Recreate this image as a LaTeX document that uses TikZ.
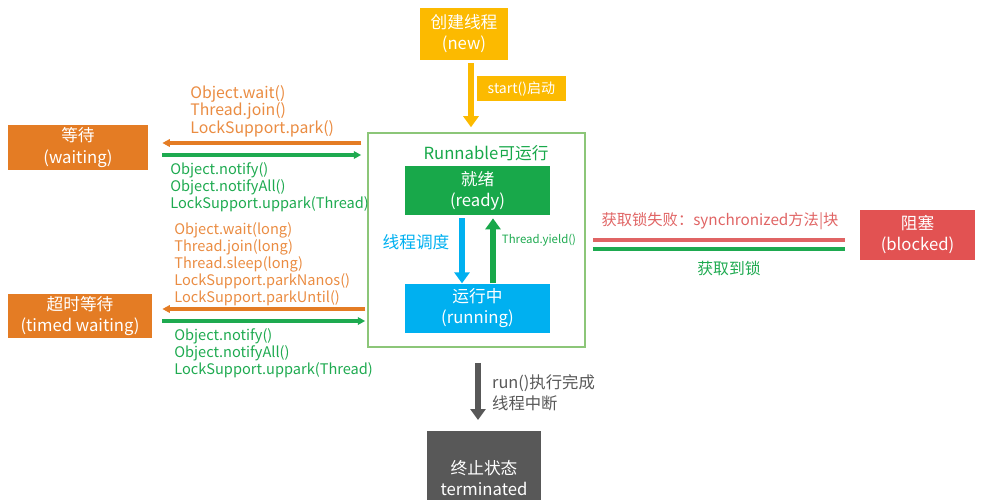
\documentclass[tikz,border=0pt]{standalone}
\usepackage{fontspec}
\setmainfont{Noto Sans CJK SC}
\setsansfont{Noto Sans CJK SC}
\usetikzlibrary{arrows.meta,positioning}
\definecolor{NewYellow}{RGB}{252,186,0}
\definecolor{WaitOrange}{RGB}{228,124,36}
\definecolor{ReadyGreen}{RGB}{24,168,74}
\definecolor{RunBlue}{RGB}{0,176,240}
\definecolor{BlockRed}{RGB}{226,82,82}
\definecolor{TermGray}{RGB}{88,88,88}
\definecolor{FrameGreen}{RGB}{140,198,120}
\definecolor{CallOrange}{RGB}{234,140,66}
\definecolor{CallGreen}{RGB}{30,170,80}
\definecolor{CallRed}{RGB}{224,100,100}

\begin{document}
\begin{tikzpicture}[x=0.2mm, y=-0.2mm, font=\sffamily, >=Latex,
  stbox/.style={fill=#1, text=white, align=center, inner sep=0pt, font=\fontsize{9.5}{12}\selectfont},
  fat/.style={line width=1.1mm, -{Triangle[width=3mm,length=2.2mm]}},
  callline/.style={line width=0.65mm, -{Triangle[width=1.5mm,length=1.5mm]}},
  calls/.style={align=left, inner sep=0pt, font=\fontsize{8.3}{9.7}\selectfont}]
  \useasboundingbox (0,0) rectangle (984,500);
  \clip (0,0) rectangle (984,500);
  \node[stbox=NewYellow, minimum width=17.6mm, minimum height=10.4mm] (new) at (464,34) {创建线程\\(new)};
  \node[draw=FrameGreen, line width=0.3mm, minimum width=43.4mm, minimum height=42.8mm] (frame) at (476.5,240) {};
  \node[text=ReadyGreen, font=\fontsize{9.5}{11}\selectfont] (title) at (486,153) {Runnable可运行};
  \node[stbox=ReadyGreen, minimum width=29mm, minimum height=9.8mm] (ready) at (477.5,190.5) {就绪\\(ready)};
  \node[stbox=RunBlue, minimum width=29mm, minimum height=9.8mm, below=13.6mm of ready] (running) {运行中\\(running)};
  \node[stbox=WaitOrange, minimum width=28mm, minimum height=9mm] (waiting) at (78,147.5) {等待\\(waiting)};
  \node[stbox=WaitOrange, minimum width=28.8mm, minimum height=8.8mm] (timed) at (80,316) {超时等待\\(timed waiting)};
  \node[stbox=BlockRed, minimum width=23mm, minimum height=10mm] (blocked) at (917.5,235) {阻塞\\(blocked)};
  \node[stbox=TermGray, minimum width=22.8mm, minimum height=18.8mm, anchor=north] (term) at (484,431) {终止状态\\terminated};

  \draw[fat, NewYellow, shorten <=0.6mm, shorten >=1mm] ([xshift=1.4mm]new.south) -- ([xshift=1.4mm]new.south |- frame.north);
  \node[stbox=NewYellow, font=\fontsize{8}{10}\selectfont, minimum width=17.8mm, minimum height=5mm] (start) at (521.5,88.5) {start()启动};

  \draw[fat, RunBlue, line width=1.2mm, shorten <=0.6mm] ([xshift=-3.1mm]ready.south) -- ([xshift=-3.1mm]running.north);
  \draw[fat, ReadyGreen, line width=1.2mm, shorten >=0.6mm] ([xshift=3.1mm]running.north) -- ([xshift=3.1mm]ready.south);
  \node[text=RunBlue, font=\fontsize{9.5}{11}\selectfont] (sched) at (416,242) {线程调度};
  \node[text=CallGreen, font=\fontsize{6.5}{8}\selectfont] (yield) at (539,240) {Thread.yield()};

  \draw[callline, WaitOrange, shorten <=1.2mm, shorten >=2.8mm] ([yshift=0.9mm]waiting.east -| frame.west) -- ([yshift=0.9mm]waiting.east);
  \draw[callline, CallGreen, shorten <=2.8mm, shorten >=1.2mm] ([yshift=-1.5mm]waiting.east) -- ([yshift=-1.5mm]waiting.east -| frame.west);
  \node[calls, text=CallOrange, anchor=south west, font=\fontsize{9}{9.9}\selectfont] (waitin) at (190,137) {Object.wait()\\Thread.join()\\LockSupport.park()};
  \node[calls, text=CallGreen, anchor=north west] (waitout) at (170,162) {Object.notify()\\Object.notifyAll()\\LockSupport.uppark(Thread)};

  \draw[callline, WaitOrange, shorten <=0.4mm, shorten >=2mm] ([yshift=1.4mm]timed.east -| frame.west) -- ([yshift=1.4mm]timed.east);
  \draw[callline, CallGreen, shorten <=2mm, shorten >=0.4mm] ([yshift=-1mm]timed.east) -- ([yshift=-1mm]timed.east -| frame.west);
  \node[calls, text=CallOrange, anchor=south west] (timedin) at (174,306) {Object.wait(long)\\Thread.join(long)\\Thread.sleep(long)\\LockSupport.parkNanos()\\LockSupport.parkUntil()};
  \node[calls, text=CallGreen, anchor=north west] (timedout) at (174,328) {Object.notify()\\Object.notifyAll()\\LockSupport.uppark(Thread)};

  \draw[CallRed, line width=0.65mm, shorten <=1.4mm, shorten >=3mm] ([yshift=-1mm]blocked.west -| frame.east) -- ([yshift=-1mm]blocked.west);
  \draw[CallGreen, line width=0.65mm, shorten <=1.4mm, shorten >=3mm] ([yshift=-2.8mm]blocked.west -| frame.east) -- ([yshift=-2.8mm]blocked.west);
  \node[text=CallRed, font=\fontsize{8.7}{10}\selectfont] (lockfail) at (720,221) {获取锁失败：synchronized方法|块};
  \node[text=CallGreen, font=\fontsize{9}{10}\selectfont] (lockok) at (729,268) {获取到锁};

  \draw[fat, TermGray, line width=1.2mm, shorten <=3mm, shorten >=2.2mm] ([xshift=-1.2mm]term.north |- frame.south) -- ([xshift=-1.2mm]term.north);
  \node[text=TermGray, align=left, anchor=west, font=\fontsize{9.3}{12}\selectfont] (runend) at (486,393) {run()执行完成\\线程中断};
\end{tikzpicture}
\end{document}
